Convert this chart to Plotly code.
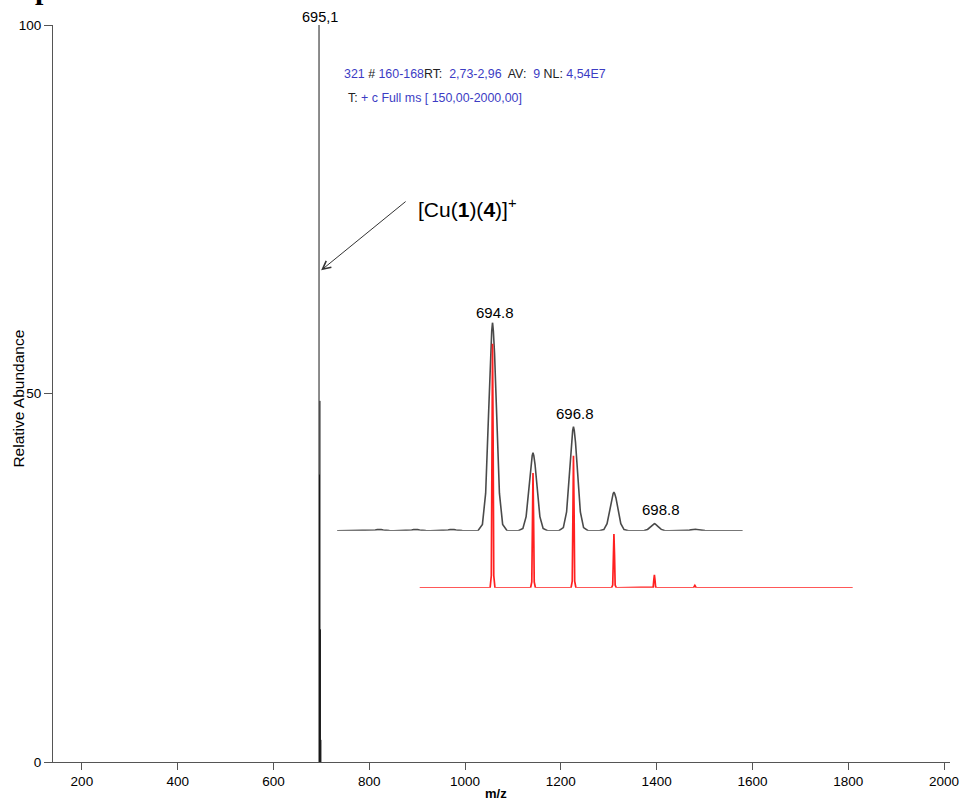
import plotly.graph_objects as go

# ---------------- data ----------------
# main spectrum (stick peaks)
main_mz = [695.1, 696.1, 697.1, 698.1, 699.1]
main_int = [100.0, 39.0, 49.0, 18.0, 3.0]

# inset: experimental profile (black)
exp_centers = [692.0, 692.9, 693.8, 694.8, 695.8, 696.8, 697.8, 698.8, 699.8]
exp_heights = [0.6, 0.6, 0.6, 100.0, 37.5, 50.0, 18.5, 3.4, 0.7]
exp_range = [690.96, 700.98]
exp_labels = ["694.8", "696.8", "698.8"]

# inset: simulated isotope pattern (red)
sim_centers = [694.8, 695.8, 696.8, 697.8, 698.8, 699.8]
sim_heights = [100.0, 47.0, 54.0, 22.0, 5.3, 1.0]
sim_range = [693.0, 703.7]

# peak shapes (offset in m/z, fraction of height)
exp_shape_dx = [-0.36, -0.25, -0.17, -0.10, -0.05, -0.02, 0.0, 0.02, 0.05, 0.10, 0.17, 0.25, 0.36]
exp_shape_fr = [0.0, 0.03, 0.18, 0.55, 0.85, 0.96, 1.0, 0.96, 0.85, 0.55, 0.18, 0.03, 0.0]
sim_shape_dx = [-0.06, -0.03, -0.015, 0.0, 0.015, 0.03, 0.06]
sim_shape_fr = [0.0, 0.05, 0.60, 1.0, 0.60, 0.05, 0.0]

x_ticks = [200, 400, 600, 800, 1000, 1200, 1400, 1600, 1800, 2000]
y_ticks = [0, 50, 100]


def profile(centers, heights, dx, fr, rng):
    xs, ys = [rng[0]], [0.0]
    for c, h in zip(centers, heights):
        for d, f in zip(dx, fr):
            xs.append(c + d)
            ys.append(h * f)
    xs.append(rng[1])
    ys.append(0.0)
    return xs, ys


stick_x, stick_y = [], []
for m, i in zip(main_mz, main_int):
    stick_x += [m, m, None]
    stick_y += [0, i, None]

ex, ey = profile(exp_centers, exp_heights, exp_shape_dx, exp_shape_fr, exp_range)
sx, sy = profile(sim_centers, sim_heights, sim_shape_dx, sim_shape_fr, sim_range)

FONT = "Liberation Sans, Arial, sans-serif"
BLUE = "#3c3cc4"

fig = go.Figure()
fig.add_trace(go.Scatter(x=stick_x, y=stick_y, mode="lines",
                         line=dict(color="#1a1a1a", width=1), showlegend=False,
                         hoverinfo="skip"))
fig.add_trace(go.Scatter(x=ex, y=ey, mode="lines", xaxis="x2", yaxis="y2",
                         line=dict(color="#4a4a4a", width=1.6), showlegend=False))
fig.add_trace(go.Scatter(x=sx, y=sy, mode="lines", xaxis="x2", yaxis="y3",
                         line=dict(color="#ff2020", width=1.7), showlegend=False))

# target plot area in pixels: x 53..953, y 25..761
PL, PR = 53, 953
PT, PB = 25, 761
H = PB - PT
W = PR - PL


def py(pix):
    return (PB - pix) / H


def px(pix):
    return (pix - PL) / W


inv = dict(visible=False, showgrid=False, zeroline=False, fixedrange=True)

fig.update_layout(
    width=968, height=798,
    margin=dict(l=PL, r=9, t=PT, b=36),
    paper_bgcolor="white", plot_bgcolor="rgba(0,0,0,0)",
    font=dict(family=FONT, color="black", size=12),
    xaxis=dict(range=[139.7, 2012.5], tickvals=x_ticks, ticktext=[str(v) for v in x_ticks],
               showgrid=False, zeroline=False, showline=True, linecolor="#555555",
               linewidth=1, ticks="outside", ticklen=7, tickcolor="#555555",
               tickfont=dict(size=13.5, family=FONT)),
    yaxis=dict(range=[0, 100], tickvals=y_ticks, ticktext=[str(v) for v in y_ticks],
               showgrid=False, zeroline=False, showline=True, linecolor="#555555",
               linewidth=1, ticks="outside", ticklen=8, tickcolor="#555555",
               tickfont=dict(size=13.5, family=FONT)),
    xaxis2=dict(range=[683.938, 706.105], domain=[0, 1], anchor="y2", **inv),
    yaxis2=dict(range=[0, 100], domain=[py(530), py(322)], anchor="x2", **inv),
    yaxis3=dict(range=[0, 100], domain=[py(587), py(343)], anchor="x2", **inv),
)

ann = []
# peak label of main spectrum
ann.append(dict(x=main_mz[0], xref="x", y=1 + (PT - 17) / H, yref="paper",
                text="695,1", showarrow=False, font=dict(size=14.5, color="black"),
                xanchor="center", yanchor="middle", xshift=1))
# instrument header (two lines)
line1 = (f'<span style="color:{BLUE}">321</span> # <span style="color:{BLUE}">160-168</span>'
         f'RT: <span style="color:{BLUE}"> 2,73-2,96</span>  AV: <span style="color:{BLUE}"> 9</span>'
         f' NL: <span style="color:{BLUE}">4,54E7</span>')
line2 = f'T: <span style="color:{BLUE}">+ c Full ms [ 150,00-2000,00]</span>'
ann.append(dict(x=px(343), xref="paper", y=py(74), yref="paper", text=line1,
                showarrow=False, xanchor="left", yanchor="middle",
                font=dict(size=12.4, color="#222222")))
ann.append(dict(x=px(347), xref="paper", y=py(98), yref="paper", text=line2,
                showarrow=False, xanchor="left", yanchor="middle",
                font=dict(size=12.4, color="#222222")))
# arrow to the peak
ann.append(dict(x=699.5, xref="x", y=py(270) * 100, yref="y", text="",
                showarrow=True, ax=86, ay=-70, axref="pixel", ayref="pixel",
                arrowhead=5, arrowsize=1.6, arrowwidth=1, arrowcolor="#333333"))
ann.append(dict(x=px(417), xref="paper", y=py(208), yref="paper",
                text="[Cu(<b>1</b>)(<b>4</b>)]<sup>+</sup>", showarrow=False,
                xanchor="left", yanchor="middle", font=dict(size=21, color="black")))
# inset labels
label_idx = [3, 5, 7]
label_shift = [(2, 10), (2, 13), (7, 14)]
for lab, idx, (xs_, ys_) in zip(exp_labels, label_idx, label_shift):
    ann.append(dict(x=exp_centers[idx], xref="x2", y=exp_heights[idx], yref="y2",
                    text=lab, showarrow=False, xanchor="center", yanchor="middle",
                    xshift=xs_, yshift=ys_, font=dict(size=15, color="black")))
# axis titles
ann.append(dict(x=px(18), xref="paper", y=py(398), yref="paper", text="Relative Abundance",
                textangle=-90, showarrow=False, xanchor="center", yanchor="middle",
                font=dict(size=15.5, color="black")))
ann.append(dict(x=px(497), xref="paper", y=py(792), yref="paper", text="<b>m/z</b>",
                showarrow=False, xanchor="center", yanchor="middle",
                font=dict(size=13, color="black")))
# cropped panel letter at the top-left edge
ann.append(dict(x=px(43), xref="paper", y=py(-11), yref="paper", text="<b>p</b>",
                showarrow=False, xanchor="center", yanchor="middle",
                font=dict(size=30, color="black", family="Liberation Serif, Times New Roman, serif")))

fig.update_layout(annotations=ann)
fig.write_html("out.html")
